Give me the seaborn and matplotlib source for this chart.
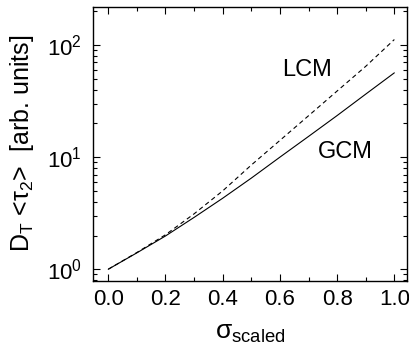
import numpy as np
import pandas as pd
import matplotlib
matplotlib.use("Agg")
import matplotlib.pyplot as plt
import seaborn as sns
from matplotlib.ticker import LogLocator, LogFormatterMathtext, MultipleLocator, NullFormatter

# Data
sigma = [0.0, 0.1, 0.2, 0.3, 0.4, 0.5, 0.6, 0.7, 0.8, 0.9, 1.0]
gcm = [1.0, 1.4, 1.98, 2.9, 4.3, 6.5, 10.0, 15.3, 23.5, 36.5, 56.5]
lcm = [1.0, 1.41, 2.03, 3.12, 5.0, 8.5, 14.1, 23.4, 38.9, 64.6, 112.0]
labels = ["GCM", "LCM"]

sns.set_style("ticks")
plt.rcParams['font.family'] = ['Liberation Sans', 'DejaVu Sans']
plt.rcParams['mathtext.fontset'] = 'custom'
plt.rcParams['mathtext.rm'] = 'Liberation Sans'
plt.rcParams['mathtext.it'] = 'Liberation Sans:italic'
plt.rcParams['mathtext.sf'] = 'Liberation Sans'
plt.rcParams['text.color'] = 'black'
plt.rcParams['axes.labelcolor'] = 'black'
plt.rcParams['xtick.color'] = 'black'
plt.rcParams['ytick.color'] = 'black'

df = pd.DataFrame({
    "sigma": sigma * 2,
    "value": gcm + lcm,
    "model": [labels[0]] * len(sigma) + [labels[1]] * len(sigma),
})

fig = plt.figure(figsize=(4.09, 3.62), dpi=100)
ax = fig.add_axes([0.228, 0.224, 0.768, 0.757])

sns.lineplot(data=df, x="sigma", y="value", style="model",
             dashes={"GCM": "", "LCM": (4, 3)}, color="black",
             linewidth=0.8, legend=False, ax=ax)

ax.set_yscale("log")
ax.set_xlim(-0.0524, 1.0455)
ax.set_ylim(0.787, 219)

ax.xaxis.set_major_locator(MultipleLocator(0.2))
ax.xaxis.set_minor_locator(MultipleLocator(0.1))
ax.set_xticks([0.0, 0.2, 0.4, 0.6, 0.8, 1.0])
ax.set_xticklabels(["0.0", "0.2", "0.4", "0.6", "0.8", "1.0"])
ax.yaxis.set_major_locator(LogLocator(base=10, numticks=10))
ax.yaxis.set_minor_locator(LogLocator(base=10, subs=np.arange(2, 10), numticks=20))
ax.yaxis.set_major_formatter(LogFormatterMathtext())
ax.yaxis.set_minor_formatter(NullFormatter())

ax.tick_params(which="both", direction="in", top=True, right=True,
               colors="black", labelcolor="black", width=0.8)
ax.tick_params(axis="x", labelsize=16)
ax.tick_params(axis="y", labelsize=16)
ax.tick_params(which="major", length=5, pad=6)
ax.tick_params(axis="y", which="major", pad=8)
ax.tick_params(which="minor", length=3)
for s in ax.spines.values():
    s.set_linewidth(1.0)
    s.set_color("black")

ax.set_xlabel("σ$_\\mathregular{scaled}$", fontsize=19, labelpad=8, color="black")
ax.set_ylabel(r"D$_\mathregular{T}$ <τ$_\mathregular{2}$>  [arb. units]",
              fontsize=18, labelpad=8, color="black")

ax.text(0.695, 59.7, "LCM", fontsize=17, ha="center", va="center", color="black")
ax.text(0.828, 11.1, "GCM", fontsize=17, ha="center", va="center", color="black")

fig.savefig("out.png", dpi=100)
